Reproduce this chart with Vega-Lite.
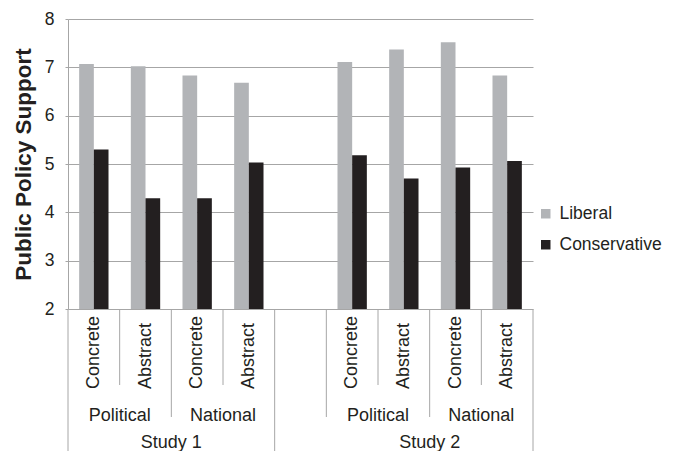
{
  "$schema": "https://vega.github.io/schema/vega-lite/v6.json",
  "padding": {"top": 10, "left": 12, "right": 5, "bottom": 0},
  "bounds": "flush",
  "config": {
    "view": {"stroke": null},
    "font": "Liberation Sans",
    "concat": {"spacing": 0}
  },
  "spacing": 0,
  "datasets": {
    "bars": [
      {"cat": "S1-PC", "party": "Liberal", "support": 7.07},
      {"cat": "S1-PC", "party": "Conservative", "support": 5.30},
      {"cat": "S1-PA", "party": "Liberal", "support": 7.02},
      {"cat": "S1-PA", "party": "Conservative", "support": 4.29},
      {"cat": "S1-NC", "party": "Liberal", "support": 6.83},
      {"cat": "S1-NC", "party": "Conservative", "support": 4.29},
      {"cat": "S1-NA", "party": "Liberal", "support": 6.68},
      {"cat": "S1-NA", "party": "Conservative", "support": 5.03},
      {"cat": "S2-PC", "party": "Liberal", "support": 7.11},
      {"cat": "S2-PC", "party": "Conservative", "support": 5.18},
      {"cat": "S2-PA", "party": "Liberal", "support": 7.37},
      {"cat": "S2-PA", "party": "Conservative", "support": 4.70},
      {"cat": "S2-NC", "party": "Liberal", "support": 7.52},
      {"cat": "S2-NC", "party": "Conservative", "support": 4.93},
      {"cat": "S2-NA", "party": "Liberal", "support": 6.83},
      {"cat": "S2-NA", "party": "Conservative", "support": 5.06}
    ],
    "labels": [
      {"pos": 0.5, "label": "Concrete", "level": 1},
      {"pos": 1.5, "label": "Abstract", "level": 1},
      {"pos": 2.5, "label": "Concrete", "level": 1},
      {"pos": 3.5, "label": "Abstract", "level": 1},
      {"pos": 5.5, "label": "Concrete", "level": 1},
      {"pos": 6.5, "label": "Abstract", "level": 1},
      {"pos": 7.5, "label": "Concrete", "level": 1},
      {"pos": 8.5, "label": "Abstract", "level": 1},
      {"pos": 1, "label": "Political", "level": 2},
      {"pos": 3, "label": "National", "level": 2},
      {"pos": 6, "label": "Political", "level": 2},
      {"pos": 8, "label": "National", "level": 2},
      {"pos": 2, "label": "Study 1", "level": 3},
      {"pos": 7, "label": "Study 2", "level": 3}
    ],
    "seps": [
      {"pos": 0, "level": 3},
      {"pos": 1, "level": 1},
      {"pos": 2, "level": 2},
      {"pos": 3, "level": 1},
      {"pos": 4, "level": 3},
      {"pos": 5, "level": 2},
      {"pos": 6, "level": 1},
      {"pos": 7, "level": 2},
      {"pos": 8, "level": 1},
      {"pos": 9, "level": 3}
    ]
  },
  "vconcat": [
    {
      "width": 465,
      "height": 290,
      "data": {"name": "bars"},
      "mark": {"type": "bar", "clip": true},
      "encoding": {
        "x": {
          "field": "cat",
          "type": "nominal",
          "scale": {
            "domain": ["S1-PC", "S1-PA", "S1-NC", "S1-NA", "gap", "S2-PC", "S2-PA", "S2-NC", "S2-NA"],
            "paddingInner": 0,
            "paddingOuter": 0
          },
          "axis": null
        },
        "xOffset": {
          "field": "party",
          "type": "nominal",
          "scale": {"domain": ["Liberal", "Conservative"], "paddingInner": 0, "paddingOuter": 0.76}
        },
        "y": {
          "field": "support",
          "type": "quantitative",
          "scale": {"domain": [2, 8], "zero": false, "nice": false},
          "axis": {
            "title": "Public Policy Support",
            "values": [2, 3, 4, 5, 6, 7, 8],
            "grid": true,
            "gridColor": "#a6a6a6",
            "domainColor": "#a6a6a6",
            "tickColor": "#a6a6a6",
            "tickSize": 3,
            "labelFontSize": 17.5,
            "labelPadding": 11,
            "labelColor": "#231f20",
            "titleFontSize": 22.5,
            "titleFontWeight": "bold",
            "titleColor": "#231f20",
            "titlePadding": 9
          }
        },
        "color": {
          "field": "party",
          "type": "nominal",
          "scale": {"domain": ["Liberal", "Conservative"], "range": ["#b2b4b7", "#231f20"]},
          "legend": {
            "title": null,
            "orient": "none",
            "legendX": 469,
            "legendY": 186,
            "padding": 0,
            "symbolType": "square",
            "symbolSize": 90,
            "symbolStrokeWidth": 0,
            "labelFontSize": 17.5,
            "labelColor": "#231f20",
            "labelOffset": 5,
            "rowPadding": 12
          }
        }
      }
    },
    {
      "width": 465,
      "height": 142,
      "layer": [
        {
          "data": {"name": "seps"},
          "mark": {"type": "rule", "color": "#a6a6a6", "strokeWidth": 1},
          "encoding": {
            "x": {"field": "pos", "type": "quantitative", "scale": {"domain": [0, 9], "nice": false, "zero": false}, "axis": null},
            "y": {"field": "level", "type": "quantitative", "scale": {"domain": [0, 1, 2, 3], "range": [0, 76, 108, 142]}, "axis": null},
            "y2": {"datum": 0}
          }
        },
        {
          "data": {"name": "labels"},
          "transform": [{"filter": "datum.level == 1"}],
          "mark": {"type": "text", "angle": 270, "align": "left", "baseline": "middle", "dx": -4, "fontSize": 18, "color": "#231f20"},
          "encoding": {
            "x": {"field": "pos", "type": "quantitative"},
            "y": {"field": "level", "type": "quantitative"},
            "text": {"field": "label"}
          }
        },
        {
          "data": {"name": "labels"},
          "transform": [{"filter": "datum.level == 2"}],
          "mark": {"type": "text", "align": "center", "baseline": "middle", "dy": -1, "fontSize": 18, "color": "#231f20"},
          "encoding": {
            "x": {"field": "pos", "type": "quantitative"},
            "y": {"field": "level", "type": "quantitative"},
            "text": {"field": "label"}
          }
        },
        {
          "data": {"name": "labels"},
          "transform": [{"filter": "datum.level == 3"}],
          "mark": {"type": "text", "align": "center", "baseline": "middle", "dy": -8, "fontSize": 18, "color": "#231f20"},
          "encoding": {
            "x": {"field": "pos", "type": "quantitative"},
            "y": {"field": "level", "type": "quantitative"},
            "text": {"field": "label"}
          }
        }
      ]
    }
  ]
}
